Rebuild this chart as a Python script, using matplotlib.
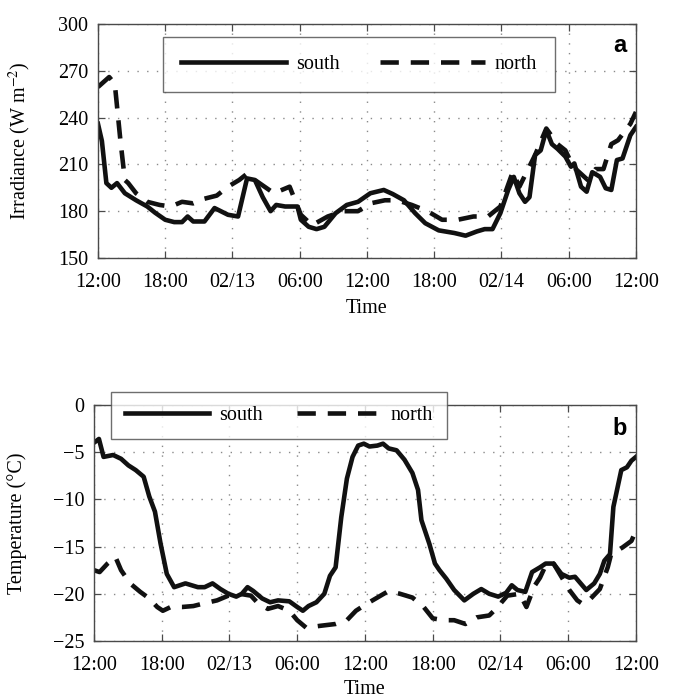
import matplotlib
matplotlib.use("Agg")
from matplotlib import pyplot as plt

plt.rcParams['font.family'] = ['Liberation Serif', 'DejaVu Serif']
plt.rcParams['mathtext.fontset'] = 'stix'

# hours since 02/12 12:00
tick_hours = [0, 6, 12, 18, 24, 30, 36, 42, 48]
tick_labels = ["12:00", "18:00", "02/13", "06:00", "12:00", "18:00", "02/14", "06:00", "12:00"]

# panel a: irradiance (W m-2)
irr_south_t = [0, 0.35, 0.75, 1.2, 1.7, 2.4, 3.4, 4.4, 5.1, 6.0, 6.8, 7.5, 8.0, 8.5, 9.5,
               10.4, 11.6, 12.5, 13.3, 14.0, 14.7, 15.4, 15.9, 16.7, 17.8, 18.1, 18.8,
               19.5, 20.2, 21.2, 22.2, 23.2, 24.3, 25.5, 26.3, 27.3, 28.3, 29.2, 30.4,
               31.8, 32.8, 33.8, 34.5, 35.2, 35.9, 36.6, 37.1, 37.6, 38.1, 38.5, 39.0,
               39.5, 40.0, 40.5, 41.0, 41.7, 42.2, 42.5, 43.1, 43.6, 44.1, 44.8, 45.3,
               45.8, 46.3, 46.8, 47.5, 48]
irr_south = [236, 225, 198, 195, 198, 191.5, 187, 183, 179, 174.5, 173, 173, 176.6, 173.4,
             173.4, 182, 177.7, 176.6, 201, 200, 189, 180, 184, 183, 183, 174.5, 170,
             168.5, 170, 178.7, 184, 186, 191.5, 193.6, 191, 187, 178.7, 172.3, 167.7,
             166, 164.3, 167, 168.5, 168.5, 178.7, 193.6, 202, 191.5, 186, 189, 216,
             219, 232, 223, 220, 215, 208.5, 210.6, 195.7, 192.5, 205, 202, 194.7,
             193.6, 212.8, 213.8, 228.7, 234]

irr_north_t = [0, 1.0, 1.5, 2.0, 2.4, 2.7, 3.4, 4.4, 5.5, 6.5, 7.5, 8.5, 9.5, 10.6, 11.6,
               12.6, 13.3, 14.0, 15.7, 17.1, 18.1, 19.1, 20.5, 21.9, 23.2, 24.3, 25.6,
               26.7, 28.0, 29.4, 30.7, 32.1, 33.5, 34.8, 35.9, 37.0, 37.6, 39.0, 40.0,
               41.0, 41.7, 42.4, 43.7, 44.4, 45.1, 45.8, 46.4, 47.5, 48]
irr_north = [259.6, 266, 261.7, 225.5, 200, 198, 191.5, 186, 184, 183, 186, 185, 188, 190,
             195.7, 200, 204, 200, 191.5, 195.7, 177.7, 171, 176.6, 180, 180, 185, 187,
             187, 184, 180, 174.5, 174.5, 176.6, 176.6, 183, 205, 195.7, 216, 233,
             223, 219, 208.5, 200, 207, 207, 223, 225.5, 236, 243.6]

# panel b: temperature (degC)
tmp_south_t = [0, 0.44, 0.85, 1.7, 2.4, 3.05, 3.7, 4.4, 4.9, 5.4, 5.9, 6.45, 7.1, 8.1, 9.2,
               9.8, 10.5, 11.2, 11.9, 12.6, 13.1, 13.6, 14.1, 14.9, 15.6, 16.3, 17.3,
               18.0, 18.5, 19.0, 19.7, 20.4, 20.9, 21.4, 21.9, 22.4, 22.9, 23.4, 23.9,
               24.4, 25.1, 25.6, 26.1, 26.8, 27.5, 28.2, 28.7, 29.0, 29.7, 30.2, 30.6,
               31.2, 31.9, 32.8, 33.6, 34.3, 35.0, 35.8, 36.5, 37.0, 37.5, 38.2, 38.8,
               39.5, 40.0, 40.7, 41.4, 42.1, 42.6, 43.1, 43.6, 44.3, 44.8, 45.2, 45.7,
               46.0, 46.7, 47.2, 47.6, 48]
tmp_south = [-4.0, -3.6, -5.5, -5.3, -5.7, -6.4, -6.9, -7.6, -9.7, -11.3, -14.7, -17.9,
             -19.3, -18.9, -19.3, -19.3, -18.9, -19.5, -20.0, -20.3, -20.0, -19.3, -19.7,
             -20.5, -20.9, -20.7, -20.8, -21.4, -21.8, -21.3, -20.9, -20.0, -18.1, -17.2,
             -11.9, -7.8, -5.5, -4.3, -4.1, -4.4, -4.3, -4.1, -4.6, -4.8, -5.8, -7.2,
             -9.0, -12.2, -14.7, -16.8, -17.5, -18.4, -19.6, -20.7, -20.0, -19.5, -20.0,
             -20.3, -19.9, -19.1, -19.6, -19.8, -17.7, -17.2, -16.8, -16.8, -17.9, -18.3,
             -18.2, -18.9, -19.6, -18.9, -17.9, -16.5, -15.8, -10.8, -6.9, -6.6, -5.9,
             -5.5]

tmp_north_t = [0, 0.5, 1.2, 1.9, 2.4, 3.2, 4.1, 4.9, 5.6, 6.1, 6.8, 7.8, 8.8, 9.8, 10.9,
               11.9, 12.9, 13.9, 14.6, 15.4, 16.3, 17.3, 18.0, 18.8, 20.0, 21.4, 22.4,
               23.2, 24.1, 25.1, 26.1, 27.1, 28.2, 29.2, 30.0, 30.9, 31.9, 32.9, 33.9,
               35.0, 35.6, 36.6, 37.7, 38.3, 39.0, 39.5, 40.0, 40.7, 41.4, 42.1, 42.8,
               43.3, 44.0, 44.8, 45.5, 45.8, 46.8, 47.6, 48]
tmp_north = [-17.5, -17.7, -16.8, -16.1, -17.5, -18.9, -19.8, -20.5, -21.4, -21.8, -21.4,
             -21.4, -21.3, -21.0, -20.7, -20.2, -20.0, -20.2, -21.1, -21.6, -21.3, -21.8,
             -22.8, -23.6, -23.4, -23.2, -22.8, -21.8, -21.1, -20.4, -19.7, -20.0, -20.4,
             -21.4, -22.6, -22.8, -22.8, -23.2, -22.5, -22.3, -21.6, -20.2, -20.0, -21.4,
             -19.2, -18.3, -17.0, -16.8, -18.2, -19.6, -20.7, -21.1, -20.5, -19.5, -17.2,
             -15.8, -15.1, -14.4, -13.3]

FS = 14.5
LW = 3.3
dash = (0, (4.0, 2.6))
spine_col = '#4a4a4a'

fig = plt.figure(figsize=(6.78, 6.98), dpi=100)
ax1 = fig.add_axes([0.1445, 0.6304, 0.7935, 0.3352])
ax2 = fig.add_axes([0.1386, 0.0817, 0.7994, 0.3381])


def style(ax, yticks):
    ax.set_xlim(0, 48)
    ax.set_xticks(tick_hours)
    ax.set_xticklabels(tick_labels)
    ax.set_yticks(yticks)
    ax.set_ylim(yticks[0], yticks[-1])
    ax.tick_params(direction='in', length=5, width=0.9, top=True, right=True,
                   labelsize=FS, pad=7, color=spine_col)
    ax.tick_params(axis='x', pad=10.5)
    ax.grid(True, color='#8a8a8a', linestyle=(0, (1, 6)), linewidth=1.0)
    for s in ax.spines.values():
        s.set_color(spine_col)
        s.set_linewidth(1.0)


l1, = ax1.plot(irr_south_t, irr_south, color='#111111', lw=LW, label='south')
l2, = ax1.plot(irr_north_t, irr_north, color='#111111', lw=LW, ls=dash, label='north')
style(ax1, [150, 180, 210, 240, 270, 300])
ax1.set_xlabel('Time', fontsize=FS)
ax1.set_ylabel(r'Irradiance (W m$^{-2}$)', fontsize=FS)
ax1.xaxis.set_label_coords(0.5, -0.175)
ax1.yaxis.set_label_coords(-0.121, 0.5)
ax1.text(0.97, 0.91, 'a', transform=ax1.transAxes, fontsize=17, fontweight='bold',
         family='Liberation Sans', ha='center', va='center')
leg1 = ax1.legend(handles=[l1, l2], ncol=2, loc='upper left',
                  bbox_to_anchor=(163 / 678, 1 - 37 / 698), bbox_transform=fig.transFigure,
                  fontsize=FS, frameon=True, fancybox=False, edgecolor=spine_col,
                  borderpad=0.9, handlelength=5.2, handletextpad=0.5, columnspacing=2.0,
                  borderaxespad=0)
leg1.get_frame().set_linewidth(1.0)

m1, = ax2.plot(tmp_south_t, tmp_south, color='#111111', lw=LW, label='south')
m2, = ax2.plot(tmp_north_t, tmp_north, color='#111111', lw=LW, ls=dash, label='north')
style(ax2, [-25, -20, -15, -10, -5, 0])
ax2.set_xlabel('Time', fontsize=FS)
ax2.set_ylabel('Temperature (°C)', fontsize=FS)
ax2.xaxis.set_label_coords(0.5, -0.165)
ax2.yaxis.set_label_coords(-0.124, 0.5)
ax2.text(0.97, 0.90, 'b', transform=ax2.transAxes, fontsize=17, fontweight='bold',
         family='Liberation Sans', ha='center', va='center')
leg2 = ax2.legend(handles=[m1, m2], ncol=2, loc='upper left',
                  bbox_to_anchor=(111 / 678, 1 - 392 / 698), bbox_transform=fig.transFigure,
                  fontsize=FS, frameon=True, fancybox=False, edgecolor=spine_col,
                  borderpad=0.7, handlelength=4.15, handletextpad=0.5, columnspacing=1.7,
                  borderaxespad=0)
leg2.get_frame().set_linewidth(1.0)

fig.savefig('out.png', dpi=100)
